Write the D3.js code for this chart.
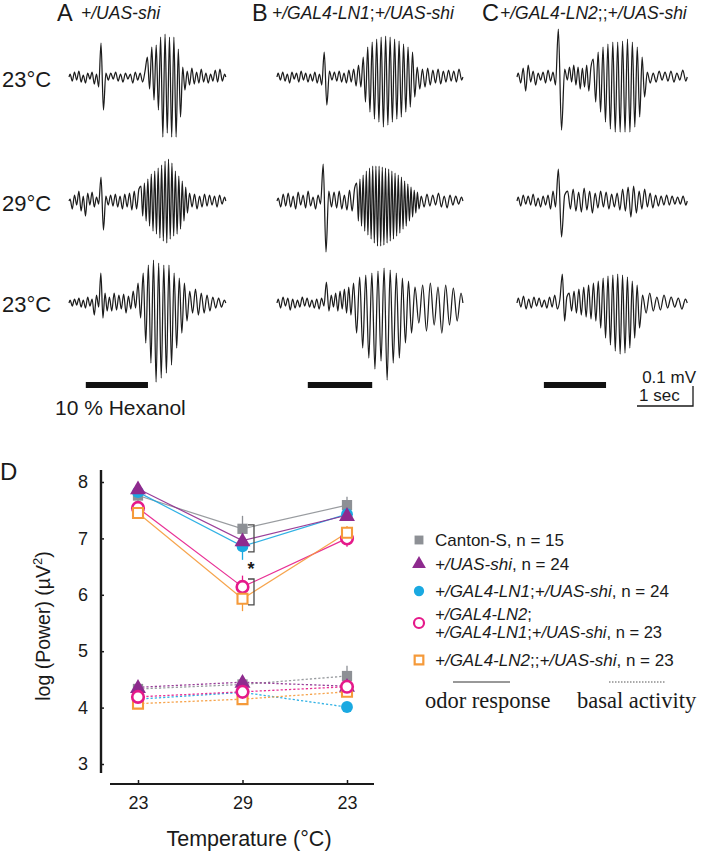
<!DOCTYPE html>
<html><head><meta charset="utf-8">
<script src="https://cdn.jsdelivr.net/npm/d3@7"></script>
<style>
body{margin:0;background:#fff}
svg{display:block}
text{font-family:"Liberation Sans",Arial,Helvetica,sans-serif;fill:#1a1a1a}
</style>
</head><body>
<svg id="c" width="701" height="853"></svg>
<script>
// ---------------- DATA ----------------
const panelNames = ["A", "B", "C"];
const panelGenotypes = ["+/UAS-shi", "+/GAL4-LN1;+/UAS-shi", "+/GAL4-LN2;;+/UAS-shi"];
const rowTemps = ["23°C", "29°C", "23°C"];
const traceDuration = [2.80, 3.32, 3.04];            // seconds shown per panel
const odorWindow = [[0.30, 1.41], [0.55, 1.70], [0.48, 1.59]]; // 10 % hexanol (s)

// segment end times (s) per trace [panel][row]
const traceSegEnds = [
  [[0.55, 0.68, 1.38, 2.09, 2.80], [0.55, 0.68, 1.27, 2.13, 2.80], [0.55, 0.70, 1.21, 2.13, 2.80]],
  [[0.82, 0.96, 1.52, 2.48, 3.32], [0.80, 0.95, 1.41, 2.55, 3.32], [0.86, 0.95, 1.34, 2.43, 3.32]],
  [[0.71, 0.88, 1.34, 2.30, 3.04], [0.71, 0.88, 3.04], [0.79, 0.91, 1.43, 2.21, 3.04]]
];
// successive extrema of the field potential (µV) per segment
const traceValues = [
  [
    [[15,-20,25,-15,30,-25,10,-30,20,-10,25,-35,15,-50],[170,-165,20],
     [-15,20,-10,25,-20,15,-25,20,-10,15,-30,25,-15,20,-25,30],
     [100,-60,150,-115,160,-165,200,-300,215,-280,200,-300,200,-300,140,-200,50,-65],
     [30,-40,45,-35,25,-30,40,-25,20,-30,15,-20,35,-25,40,-20,15]],
    [[10,-40,30,-20,50,-50,25,-75,40,-20,45,-30,20,-15],[120,-145,25],
     [-20,30,-25,35,-30,25,-40,35,-30,40,-45,50,-40,60],
     [75,-75,90,-100,110,-125,135,-150,150,-165,165,-185,180,-200,200,-210,210,-190,190,-175,150,-165,125,-140,100,-100,70,-60],
     [40,-30,35,-40,25,-30,35,-25,30,-20,25,-30,30,-15,20]],
    [[15,-15,20,-10,25,-20,15,-25,30,-15,20,-60,40,-20],[150,-75,50,-40],
     [30,-40,50,-35,40,-30,45,-50,35,-30,60,-25],
     [100,-75,150,-200,190,-300,215,-395,200,-375,190,-350,190,-310,150,-225,125,-150,100,-90],
     [60,-50,70,-60,50,-50,40,-40,30,-25,25,-20,15]]
  ],
  [
    [[20,-15,25,-20,15,-30,25,-10,20,-25,30,-15,20,-25,15,-20,25,-30,15,-40],[125,-140,30],
     [-15,25,-20,30,-25,20,-30,35,-25,40,-45,60,-50],
     [100,-125,150,-175,175,-210,190,-225,200,-250,205,-240,200,-225,190,-210,180,-200,165,-175,150,-150,125,-100],
     [50,-60,40,-50,45,-40,35,-30,40,-35,30,-25,35,-20,30,-25,40,-15]],
    [[15,-30,35,-25,40,-30,25,-40,45,-20,30,-35,50,-25,20,-40,30,-15],[185,-255,50],
     [-30,45,-35,50,-40,30,-45,55,-50,65],
     [90,-100,110,-125,130,-150,150,-170,165,-190,175,-210,175,-225,175,-225,170,-220,165,-210,160,-200,150,-190,140,-175,130,-160,120,-140,100,-125,85,-100,70,-80,55,-60,45,-40],
     [25,-30,35,-25,30,-20,40,-30,25,-35,30,-20,25,-15,20]],
    [[20,-25,30,-15,25,-35,20,-25,15,-20,30,-15,25,-20,15,-25,20,-30,25,-15],[105,-40],
     [40,-20,50,-40,60,-30,70,-50,80,-60],
     [100,-150,130,-225,140,-275,150,-330,160,-290,175,-385,165,-300,150,-275,125,-200,110,-150],
     [80,-100,90,-140,100,-110,80,-150,90,-110,75,-90,50]]
  ],
  [
    [[20,-30,45,-70,60,-25,30,-40,20,-15,25,-30,35,-20,25,-40],[240,-265,40],
     [-15,50,-25,60,-40,50,-60,45,-50,60,-70,50],
     [90,-125,125,-175,150,-225,165,-260,175,-275,175,-275,180,-275,190,-275,175,-250,150,-200,100,-100],
     [25,-30,20,-25,30,-15,25,-20,30,-25,20,-15,35,-20]],
    [[20,-25,30,-15,25,-20,35,-25,15,-30,25,-20,30,-40,50,-30],[160,-180,30],
     [50,-40,60,-50,45,-55,65,-45,50,-60,40,-35,50,-30,45,-40,35,-30,40,-45,60,-50,70,-80,75,-60,50,-40,60,-30,40,-35,30,-25,25,-20,30,-20,25,-15,20,-15,25,-20]],
    [[25,-20,35,-30,20,-25,30,-15,25,-20,15,-25,30,-20,40,-30,20],[145,-90,30],
     [50,-40,60,-50,70,-60,80,-70,90,-80,100,-90],
     [110,-125,125,-175,135,-210,140,-240,145,-255,140,-250,130,-225,110,-175,90,-125],
     [40,-50,50,-40,30,-35,40,-25,30,-20,25,-30,20]]
  ]
];

// Panel D
const temps = ["23", "29", "23"];
const yTicks = [3, 4, 5, 6, 7, 8];
const genotypes = ["Canton-S", "+/UAS-shi", "+/GAL4-LN1;+/UAS-shi", "+/GAL4-LN2;+/GAL4-LN1;+/UAS-shi", "+/GAL4-LN2;;+/UAS-shi"];
const nFlies = [15, 24, 24, 23, 23];
const odorMean = [
  [7.76, 7.17, 7.59],
  [7.88, 6.96, 7.41],
  [7.82, 6.86, 7.43],
  [7.54, 6.14, 7.00],
  [7.45, 5.93, 7.10]
];
const odorSE = [
  [0.10, 0.23, 0.15],
  [0.06, 0.14, 0.10],
  [0.08, 0.24, 0.10],
  [0.10, 0.20, 0.15],
  [0.10, 0.22, 0.12]
];
const basalMean = [
  [4.33, 4.41, 4.56],
  [4.36, 4.45, 4.38],
  [4.15, 4.27, 4.01],
  [4.19, 4.28, 4.37],
  [4.07, 4.15, 4.28]
];
const basalSE = [
  [0.06, 0.07, 0.18],
  [0.05, 0.06, 0.06],
  [0.05, 0.06, 0.06],
  [0.06, 0.07, 0.08],
  [0.06, 0.06, 0.08]
];
const sigBrackets = [[7.24, 6.76], [6.28, 5.82]];   // at 29 °C

// ---------------- STYLE / LAYOUT ----------------
const colors = ["#8d9095", "#8e2a8e", "#1aa9e1", "#e5198a", "#f59a3a"];
const symbols = [d3.symbolSquare, d3.symbolTriangle, d3.symbolCircle, d3.symbolCircle, d3.symbolSquare];
const symSize = [105, 110, 110, 105, 100];
const filled = [true, true, true, false, false];

const svg = d3.select("#c");
const panelX = [69, 277, 517];
const rowY = [77, 201, 303];
const pxPerSec = 56, pxPerUV = 0.2;

function rich(textSel, str) {
  // italic gene names, upright separators
  const parts = str.split(/(;+|, n = \d+)/).filter(s => s.length);
  parts.forEach(p => {
    const upright = /^;+$/.test(p) || /^, n = /.test(p) || p === "Canton-S";
    textSel.append("tspan").attr("font-style", upright ? "normal" : "italic").text(p);
  });
}

// panel titles
const letterX = [57, 252, 482], titleX = [81, 272, 500];
panelNames.forEach((n, i) => {
  svg.append("text").attr("x", letterX[i]).attr("y", 21).attr("font-size", 23.5).text(n);
  rich(svg.append("text").attr("x", titleX[i]).attr("y", 19).attr("font-size", 17.5), panelGenotypes[i]);
});
// row labels
const rowLabelY = [87, 211, 312];
rowTemps.forEach((t, r) => svg.append("text").attr("x", 2).attr("y", rowLabelY[r]).attr("font-size", 22).text(t));

// traces
function tracePoints(ends, segs) {
  const pts = [[0, 0]]; let t0 = 0;
  segs.forEach((vals, i) => {
    const t1 = ends[i], dt = (t1 - t0) / vals.length;
    vals.forEach((v, j) => pts.push([t0 + (j + 0.5) * dt, v]));
    t0 = t1;
  });
  pts.push([t0, 0]);
  return pts;
}
panelNames.forEach((_, p) => {
  const x = d3.scaleLinear().domain([0, traceDuration[p]]).range([panelX[p], panelX[p] + traceDuration[p] * pxPerSec]);
  rowTemps.forEach((_, r) => {
    const y = d3.scaleLinear().domain([-500, 500]).range([rowY[r] + 500 * pxPerUV, rowY[r] - 500 * pxPerUV]);
    const line = d3.line().x(d => x(d[0])).y(d => y(d[1])).curve(d3.curveMonotoneX);
    svg.append("path").attr("d", line(tracePoints(traceSegEnds[p][r], traceValues[p][r])))
      .attr("fill", "none").attr("stroke", "#1c1c1c").attr("stroke-width", 1.25).attr("stroke-linejoin", "round");
  });
  svg.append("rect").attr("x", x(odorWindow[p][0])).attr("width", x(odorWindow[p][1]) - x(odorWindow[p][0]))
    .attr("y", 382).attr("height", 6).attr("fill", "#111");
});
svg.append("text").attr("x", 55).attr("y", 415).attr("font-size", 21).text("10 % Hexanol");

// scale bar
const sbX = 693, sbY = 406;
svg.append("path").attr("d", `M${sbX - pxPerSec},${sbY}H${sbX}V${sbY - 100 * pxPerUV}`)
  .attr("fill", "none").attr("stroke", "#1a1a1a").attr("stroke-width", 1.3);
svg.append("text").attr("x", 696).attr("y", 383).attr("text-anchor", "end").attr("font-size", 17).text("0.1 mV");
svg.append("text").attr("x", 639).attr("y", 401).attr("font-size", 17).text("1 sec");

// ---------------- PANEL D ----------------
svg.append("text").attr("x", 0).attr("y", 480).attr("font-size", 24).text("D");
const yS = d3.scaleLinear().domain([3, 8]).range([764, 482]);
const xS = d3.scalePoint().domain([0, 1, 2]).range([138, 347]);

const gy = svg.append("g").attr("transform", "translate(101,0)")
  .call(d3.axisLeft(yS).tickValues(yTicks).tickFormat(d3.format("d")).tickSizeInner(-3).tickSizeOuter(0).tickPadding(13));
gy.select(".domain").remove();
gy.append("line").attr("y1", 470).attr("y2", 773).attr("stroke", "#1a1a1a").attr("stroke-width", 2.4);
gy.selectAll(".tick line").attr("stroke", "#1a1a1a").attr("stroke-width", 1.5);
gy.selectAll(".tick text").attr("font-size", 18).attr("font-family", "Liberation Sans, Arial, sans-serif").attr("fill", "#1a1a1a");

const gx = svg.append("g").attr("transform", "translate(0,784)")
  .call(d3.axisBottom(xS).tickFormat(i => temps[i]).tickSizeInner(-4).tickSizeOuter(0).tickPadding(12));
gx.select(".domain").remove();
gx.append("line").attr("x1", 110).attr("x2", 374).attr("stroke", "#1a1a1a").attr("stroke-width", 2.2);
gx.selectAll(".tick line").attr("stroke", "#1a1a1a").attr("stroke-width", 1.5);
gx.selectAll(".tick text").attr("font-size", 18).attr("font-family", "Liberation Sans, Arial, sans-serif").attr("fill", "#1a1a1a");

svg.append("text").attr("x", 249).attr("y", 846).attr("text-anchor", "middle").attr("font-size", 21.5).text("Temperature (°C)");
const yl = svg.append("text").attr("transform", "translate(50,626) rotate(-90)").attr("text-anchor", "middle").attr("font-size", 19.5);
yl.append("tspan").text("log (Power) (µV");
yl.append("tspan").attr("font-size", 13).attr("dy", -8).text("2");
yl.append("tspan").attr("dy", 8).text(")");

const plotG = svg.append("g");
function drawSet(means, ses, dashed, order) {
  const line = d3.line().x((d, i) => xS(i)).y(d => yS(d));
  order.forEach(g => {
    plotG.append("path").attr("d", line(means[g])).attr("fill", "none").attr("stroke", colors[g])
      .attr("stroke-width", dashed ? 1.3 : 1.2).attr("stroke-dasharray", dashed ? "2.2,2" : null).attr("opacity", 0.9);
  });
  order.forEach(g => {
    means[g].forEach((m, i) => {
      plotG.append("line").attr("x1", xS(i)).attr("x2", xS(i)).attr("y1", yS(m - ses[g][i])).attr("y2", yS(m + ses[g][i]))
        .attr("stroke", colors[g]).attr("stroke-width", 1.3);
    });
  });
  order.forEach(g => {
    means[g].forEach((m, i) => {
      plotG.append("path").attr("d", d3.symbol().type(symbols[g]).size(symSize[g])())
        .attr("transform", `translate(${xS(i)},${yS(m) + (g === 1 ? 1 : 0)})`)
        .attr("fill", filled[g] ? colors[g] : "#fff").attr("stroke", filled[g] ? "none" : colors[g])
        .attr("stroke-width", g === 3 ? 2.6 : 2.1);
    });
  });
}
drawSet(basalMean, basalSE, true, [0, 1, 2, 4, 3]);
drawSet(odorMean, odorSE, false, [0, 2, 1, 3, 4]);

// significance brackets
sigBrackets.forEach(b => {
  plotG.append("path").attr("d", `M248,${yS(b[0])}H254V${yS(b[1])}H248`).attr("fill", "none")
    .attr("stroke", "#4a4a4a").attr("stroke-width", 1.3);
});
svg.append("text").attr("x", 251).attr("y", yS((sigBrackets[0][1] + sigBrackets[1][0]) / 2) + 10)
  .attr("text-anchor", "middle").attr("font-size", 18).attr("font-weight", "bold").text("*");

// legend
const legRowY = [540, 564, 591, 623, 660];
genotypes.forEach((g, i) => {
  svg.append("path").attr("d", d3.symbol().type(symbols[i]).size(symSize[i] * 0.75)())
    .attr("transform", `translate(419,${legRowY[i]})`)
    .attr("fill", filled[i] ? colors[i] : "#fff").attr("stroke", filled[i] ? "none" : colors[i]).attr("stroke-width", 2.2);
  const label = g + ", n = " + nFlies[i];
  if (i === 3) {
    const cut = g.indexOf(";") + 1;
    rich(svg.append("text").attr("x", 435).attr("y", legRowY[i] - 3).attr("font-size", 16.5), g.slice(0, cut));
    rich(svg.append("text").attr("x", 435).attr("y", legRowY[i] + 15).attr("font-size", 16.5), g.slice(cut) + ", n = " + nFlies[i]);
  } else {
    rich(svg.append("text").attr("x", 435).attr("y", legRowY[i] + 6).attr("font-size", 17), label);
  }
});
svg.append("line").attr("x1", 453).attr("x2", 510).attr("y1", 682).attr("y2", 682).attr("stroke", "#333").attr("stroke-width", 1);
svg.append("line").attr("x1", 609).attr("x2", 665).attr("y1", 682).attr("y2", 682).attr("stroke", "#555").attr("stroke-width", 1).attr("stroke-dasharray", "1.5,1.5");
svg.append("text").attr("x", 425).attr("y", 708).attr("font-size", 22.5).style("font-family", "'Liberation Serif','Times New Roman',serif").text("odor response");
svg.append("text").attr("x", 577).attr("y", 708).attr("font-size", 22.5).style("font-family", "'Liberation Serif','Times New Roman',serif").text("basal activity");
</script>
</body></html>
